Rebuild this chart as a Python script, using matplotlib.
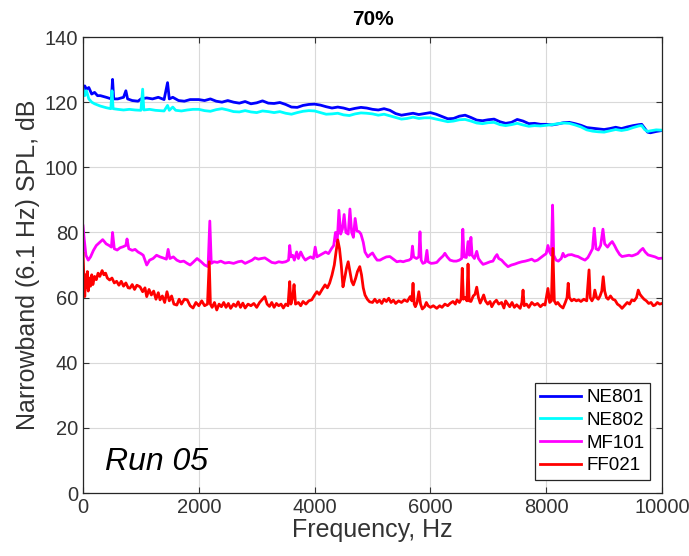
import matplotlib
matplotlib.use("Agg")
import matplotlib.pyplot as plt
import numpy as np

plt.rcParams['font.family'] = ['Liberation Sans', 'DejaVu Sans']

# (frequency Hz, SPL dB)
ne801 = [(0, 123.5), (30, 125), (60, 124), (100, 124.5), (150, 122.5), (200, 123), (250, 122),
         (300, 122), (400, 121.5), (490, 121), (510, 127), (530, 121), (600, 121), (700, 121.5),
         (740, 123.5), (770, 121), (850, 120.5), (950, 120.3), (1000, 121), (1100, 121.3),
         (1200, 121), (1300, 121.5), (1400, 120.8), (1460, 126), (1490, 121), (1550, 121.5),
         (1650, 120.5), (1750, 120.3), (1850, 120.8), (2000, 120.8), (2100, 120.5), (2200, 121),
         (2300, 120.3), (2400, 120), (2500, 120.5), (2600, 120), (2700, 119.7), (2800, 120.2),
         (2900, 119.5), (3000, 119.8), (3100, 120.4), (3200, 119.7), (3300, 119.6), (3400, 119.9),
         (3500, 119.3), (3600, 118.5), (3700, 118.4), (3800, 119), (3900, 119.3), (4000, 119.4),
         (4100, 119.1), (4200, 118.6), (4300, 118.2), (4400, 118.5), (4500, 118.2), (4600, 117.7),
         (4700, 118.1), (4800, 118.4), (4900, 118.2), (5000, 117.8), (5100, 117.6), (5200, 118),
         (5300, 117.5), (5400, 116.5), (5500, 116), (5600, 116.3), (5700, 116.6), (5800, 116.2),
         (5900, 116.5), (6000, 116.8), (6100, 116.3), (6200, 115.6), (6300, 114.9), (6400, 115),
         (6500, 115.7), (6600, 116), (6700, 115.3), (6800, 114.5), (6900, 114.3), (7000, 114.6),
         (7100, 114.8), (7200, 114), (7300, 113.5), (7400, 113.8), (7500, 114.7), (7600, 114.2),
         (7700, 113.4), (7800, 113.5), (7900, 113.2), (8000, 113.2), (8100, 113), (8200, 113.3),
         (8300, 113.7), (8400, 113.8), (8500, 113.4), (8600, 112.9), (8700, 112.2), (8800, 112),
         (8900, 111.8), (9000, 111.6), (9100, 111.9), (9200, 112.3), (9300, 111.9), (9400, 112.4),
         (9500, 112.8), (9600, 113.1), (9650, 113.2), (9700, 112), (9750, 110.8), (9800, 110.6),
         (9900, 111), (10000, 111.3)]

ne802 = [(0, 124), (30, 122), (60, 123.5), (100, 121), (150, 120), (200, 119.5), (300, 118.8),
         (400, 118.3), (480, 118), (500, 123.5), (520, 118), (600, 117.8), (700, 117.6),
         (800, 117.8), (900, 117.6), (1000, 117.5), (1030, 124), (1050, 117.6), (1150, 117.8),
         (1250, 117.5), (1400, 117.3), (1460, 119), (1490, 117.5), (1550, 118.5), (1600, 117.5),
         (1700, 117.3), (1800, 117.6), (1900, 117.8), (2000, 117.8), (2100, 117.4), (2200, 117.2),
         (2300, 117.7), (2400, 118), (2500, 117.6), (2600, 117.1), (2700, 117), (2800, 117.4),
         (2900, 117), (3000, 116.8), (3100, 117.3), (3200, 117.1), (3300, 116.8), (3400, 117.1),
         (3500, 116.6), (3600, 116.3), (3700, 116.8), (3800, 117.2), (3900, 117.4), (4000, 117.3),
         (4100, 116.8), (4200, 116.3), (4300, 116.4), (4400, 116.6), (4500, 116.1), (4600, 115.9),
         (4700, 116.4), (4800, 116.7), (4900, 116.6), (5000, 116.4), (5100, 116), (5200, 116.3),
         (5300, 115.8), (5400, 115.3), (5500, 114.8), (5600, 115), (5700, 115.4), (5800, 115),
         (5900, 115.2), (6000, 115.2), (6100, 114.8), (6200, 114.4), (6300, 114), (6400, 114.2),
         (6500, 114.6), (6600, 114.7), (6700, 114.2), (6800, 113.6), (6900, 113.4), (7000, 113.7),
         (7100, 113.8), (7200, 113.1), (7300, 112.8), (7400, 113.1), (7500, 113.5), (7600, 113),
         (7700, 112.6), (7800, 112.8), (7900, 112.7), (8000, 112.9), (8100, 113.1), (8200, 113.4),
         (8300, 113.6), (8400, 113.5), (8500, 113), (8600, 112.4), (8700, 111.5), (8800, 111.1),
         (8900, 110.9), (9000, 110.8), (9100, 111.2), (9200, 111.6), (9300, 111.3), (9400, 111.6),
         (9500, 112.2), (9600, 112.7), (9650, 112.8), (9700, 111.6), (9750, 111), (9800, 111.2),
         (9900, 111.5), (10000, 111.4)]

mf101 = [(0, 82), (20, 78), (50, 73), (90, 71.5), (130, 72.5), (180, 74.5), (230, 76), (290, 77),
         (340, 77.8), (400, 76.5), (450, 76), (490, 75.5), (510, 80), (540, 75), (590, 74.6),
         (640, 75.3), (690, 75.6), (740, 76), (760, 78), (790, 75), (850, 74.5), (900, 74.8),
         (950, 74), (1000, 73.5), (1040, 73), (1080, 71), (1100, 70), (1150, 71.5), (1210, 72),
         (1270, 73), (1330, 72.5), (1380, 72.2), (1440, 71.8), (1470, 74.8), (1500, 72),
         (1560, 72.5), (1620, 71.5), (1680, 71), (1740, 71.2), (1800, 70.5), (1850, 70),
         (1900, 70.8), (1970, 72), (2040, 71), (2100, 70), (2160, 69.5), (2190, 83.5),
         (2215, 70.5), (2260, 71), (2320, 70.8), (2380, 71.2), (2450, 70.6), (2520, 70.8),
         (2600, 70.5), (2680, 71), (2740, 71.2), (2800, 70.5), (2860, 71), (2920, 71.5),
         (2970, 72.2), (3030, 71.8), (3080, 72), (3140, 72.2), (3200, 71.5), (3260, 70.8),
         (3320, 70.6), (3380, 71), (3440, 70.8), (3500, 71), (3550, 71.5), (3570, 76),
         (3590, 72.5), (3620, 73), (3650, 71.5), (3690, 74), (3720, 72), (3760, 74), (3800, 72.5),
         (3840, 71.5), (3880, 72), (3930, 72.5), (3980, 72), (4010, 75.5), (4040, 72.5),
         (4090, 73), (4140, 73.5), (4190, 74), (4240, 73.5), (4290, 75), (4330, 76), (4360, 80),
         (4390, 77), (4420, 86.8), (4450, 79.5), (4480, 81), (4510, 85.5), (4540, 80),
         (4580, 79.5), (4610, 87.2), (4640, 80), (4670, 78.5), (4700, 84.3), (4730, 80.5),
         (4770, 80.2), (4800, 79.5), (4840, 77), (4870, 74), (4920, 72.5), (4960, 73.2),
         (5000, 73.7), (5040, 72.5), (5080, 71.5), (5130, 71.5), (5180, 72), (5240, 72.5),
         (5300, 72.6), (5360, 71.8), (5420, 71), (5480, 71.2), (5530, 71), (5580, 71.3),
         (5630, 71.5), (5670, 72), (5690, 75.8), (5710, 72.5), (5760, 72), (5800, 72.5),
         (5820, 80.2), (5840, 71.5), (5870, 70.5), (5910, 70.8), (5940, 74.5), (5960, 71),
         (6010, 70.5), (6060, 70.6), (6110, 70.8), (6160, 71.8), (6220, 72.8), (6250, 73.6),
         (6290, 72.5), (6340, 71.5), (6400, 71.2), (6450, 71.2), (6500, 71.5), (6540, 72),
         (6560, 81), (6580, 72.5), (6620, 72.3), (6650, 77.2), (6675, 73), (6700, 78.5),
         (6720, 73), (6760, 72), (6800, 74.2), (6830, 72), (6870, 71), (6910, 70.2), (6960, 70.5),
         (7030, 71), (7080, 71.2), (7120, 72.5), (7150, 73.2), (7180, 72), (7230, 71.5),
         (7280, 70.5), (7340, 69.5), (7400, 70), (7460, 70.3), (7520, 70.7), (7580, 71),
         (7640, 71.2), (7700, 71.5), (7750, 71.8), (7800, 71.2), (7850, 71.5), (7900, 72.2),
         (7960, 73), (8000, 73.5), (8030, 76), (8060, 74), (8090, 73), (8110, 88.4), (8130, 73),
         (8170, 71.5), (8210, 71.2), (8260, 72), (8290, 73.6), (8320, 72.5), (8380, 73.1),
         (8440, 73.2), (8500, 72.8), (8550, 72.6), (8610, 72), (8670, 71.5), (8720, 72.3),
         (8760, 73.6), (8800, 75), (8830, 81.3), (8860, 75), (8900, 74.6), (8940, 76), (8980, 81),
         (9010, 76.5), (9060, 75.5), (9100, 76.5), (9140, 77.2), (9180, 76), (9220, 74.6),
         (9270, 73.2), (9310, 72.6), (9370, 72.8), (9430, 73), (9480, 72.8), (9530, 73.1),
         (9580, 73.5), (9630, 74.5), (9670, 75.1), (9710, 74), (9760, 73.1), (9820, 72.8),
         (9880, 72.5), (9940, 72), (10000, 72.1)]

ff021 = [(0, 73.6), (15, 66), (30, 60.3), (45, 67), (60, 63), (75, 68), (90, 62), (110, 66),
         (130, 63.5), (150, 67), (170, 64), (200, 66.5), (230, 65.5), (260, 67.5), (290, 66.5),
         (330, 68.3), (360, 67), (390, 67.5), (420, 66), (460, 65.4), (500, 66), (540, 64.5),
         (580, 65), (620, 63.8), (660, 65), (700, 63.5), (740, 64.5), (780, 63), (810, 62.9),
         (850, 64), (890, 62.5), (930, 63.8), (985, 63.3), (1030, 61.8), (1070, 63), (1100, 60.3),
         (1140, 62.5), (1180, 60.8), (1220, 62), (1260, 59.5), (1300, 61.5), (1330, 59.3),
         (1370, 60.5), (1410, 58.5), (1450, 61.8), (1490, 59), (1530, 60.5), (1570, 58),
         (1620, 57.7), (1660, 59.5), (1700, 58), (1750, 59.5), (1800, 59.3), (1850, 57.5),
         (1900, 56.8), (1950, 58.5), (2000, 57.5), (2050, 59), (2100, 57.5), (2150, 58),
         (2180, 71), (2200, 58), (2230, 57), (2270, 58.5), (2310, 56.2), (2350, 58), (2390, 57.2),
         (2430, 58.5), (2470, 57), (2510, 58.2), (2550, 56.7), (2600, 58), (2640, 57.3),
         (2680, 58.7), (2720, 57), (2760, 58.3), (2800, 56.8), (2850, 58), (2900, 57.5),
         (2950, 58.2), (3000, 57), (3050, 58.5), (3100, 59.5), (3140, 60.3), (3180, 58),
         (3220, 57.3), (3260, 58.5), (3300, 57), (3340, 58.2), (3380, 57.5), (3420, 58),
         (3460, 56.8), (3500, 58), (3540, 57.5), (3570, 64.9), (3590, 58), (3620, 60), (3645, 64),
         (3670, 58), (3720, 58.5), (3760, 57.5), (3800, 58.8), (3850, 58), (3900, 59),
         (3950, 59.3), (4000, 60.8), (4040, 61.8), (4080, 61), (4130, 62.5), (4180, 63.9),
         (4220, 63), (4260, 64.5), (4300, 66.9), (4340, 70), (4370, 74), (4400, 77.7), (4430, 75),
         (4460, 70), (4490, 63.3), (4520, 66), (4550, 69), (4580, 71), (4610, 68), (4640, 65),
         (4670, 63.9), (4710, 66), (4740, 68), (4780, 69.5), (4810, 67), (4840, 63), (4870, 60.8),
         (4910, 59.5), (4950, 58.7), (5000, 58.5), (5040, 59.5), (5080, 58.5), (5120, 59.2),
         (5160, 58.2), (5200, 59.5), (5240, 58.8), (5280, 59.8), (5320, 58.5), (5360, 59.2),
         (5400, 58.2), (5450, 59), (5500, 58.5), (5550, 59.3), (5600, 58.8), (5650, 60.3),
         (5680, 59), (5700, 64.4), (5720, 58), (5740, 57.2), (5770, 58.5), (5800, 61.8),
         (5830, 58), (5860, 56.5), (5900, 57.2), (5930, 58.5), (5960, 57.5), (6000, 57),
         (6050, 57.5), (6110, 56.7), (6160, 57.5), (6200, 57), (6250, 58), (6300, 57.5),
         (6340, 58.2), (6390, 58.8), (6430, 58), (6460, 59.3), (6500, 58.5), (6530, 59.5),
         (6550, 69), (6570, 59.5), (6600, 60), (6630, 59), (6650, 70.3), (6670, 59), (6700, 58.8),
         (6740, 60.5), (6770, 61), (6800, 63.2), (6830, 60), (6860, 58.3), (6890, 59.5),
         (6920, 60.8), (6950, 59), (6990, 58), (7030, 58.8), (7060, 57.2), (7100, 58.5),
         (7140, 59.2), (7180, 58), (7230, 58.5), (7270, 56.8), (7300, 59), (7330, 58.2),
         (7370, 57.2), (7410, 58.5), (7450, 57), (7490, 57.8), (7550, 56.7), (7580, 58.5),
         (7600, 62.3), (7620, 57.5), (7660, 58), (7700, 57), (7750, 58.5), (7800, 57.7),
         (7850, 58.2), (7900, 57.2), (7950, 58), (7980, 57.7), (8030, 62.8), (8060, 58.5),
         (8090, 59), (8115, 75.1), (8140, 59), (8170, 58), (8200, 58.5), (8240, 57.5),
         (8290, 56.8), (8330, 58.5), (8360, 60), (8380, 64.4), (8400, 60), (8440, 59),
         (8480, 59.5), (8520, 59), (8560, 59.3), (8600, 58.8), (8650, 59.5), (8700, 59),
         (8740, 68.5), (8760, 60), (8790, 59), (8820, 60), (8840, 62.3), (8870, 60), (8900, 59.5),
         (8930, 60.5), (8960, 62), (8985, 66.4), (9010, 62), (9040, 60), (9070, 59.5),
         (9110, 60.5), (9150, 59.5), (9190, 59.2), (9230, 58), (9270, 57.5), (9310, 56.7),
         (9350, 57.5), (9400, 58.5), (9440, 58), (9480, 59.3), (9520, 59), (9560, 60),
         (9590, 62.3), (9620, 61), (9650, 60.3), (9690, 59.5), (9730, 59), (9770, 58.2),
         (9810, 58.5), (9850, 57.5), (9880, 57.7), (9920, 58.5), (9960, 58), (10000, 58.2)]

series = [("NE801", ne801, (0, 0, 1)),
          ("NE802", ne802, (0, 1, 1)),
          ("MF101", mf101, (1, 0, 1)),
          ("FF021", ff021, (1, 0, 0))]

x_ticks = [0, 2000, 4000, 6000, 8000, 10000]
y_ticks = [0, 20, 40, 60, 80, 100, 120, 140]

fig = plt.figure(figsize=(6.89, 5.56), dpi=100)
ax = fig.add_axes([0.1205, 0.1133, 0.8403, 0.8201])

for name, pts, col in series:
    d = np.array(pts)
    ax.plot(d[:, 0], d[:, 1], color=col, lw=2.0, label=name)

txt_col = (0.2, 0.2, 0.2)
ax.set_xlim(0, 10000)
ax.set_ylim(0, 140)
ax.set_xticks(x_ticks)
ax.set_yticks(y_ticks)
ax.grid(True, color=(0.85, 0.85, 0.85), lw=0.8)
ax.set_axisbelow(True)
ax.tick_params(direction='in', length=4, width=0.8, colors=txt_col,
               labelsize=14.5, top=True, right=True, labeltop=False, labelright=False)
for s in ax.spines.values():
    s.set_color((0.15, 0.15, 0.15))
    s.set_linewidth(0.9)

ax.set_xlabel("Frequency, Hz", fontsize=18, color=txt_col, labelpad=1)
ax.set_ylabel("Narrowband (6.1 Hz) SPL, dB", fontsize=18, color=txt_col, labelpad=3)
ax.set_title("70%", fontsize=15, fontweight='bold', pad=9)

ax.text(380, 9.5, "Run 05", fontsize=23, style='italic', va='center', ha='left')

leg = ax.legend(loc='lower right', bbox_to_anchor=(0.979, 0.0285), borderaxespad=0,
                fancybox=False, framealpha=1, edgecolor=(0.15, 0.15, 0.15),
                fontsize=13.5, handlelength=2.2, handletextpad=0.25, labelspacing=0.3,
                borderpad=0.3)
leg.get_frame().set_linewidth(0.9)

fig.savefig("out.png", dpi=100)
